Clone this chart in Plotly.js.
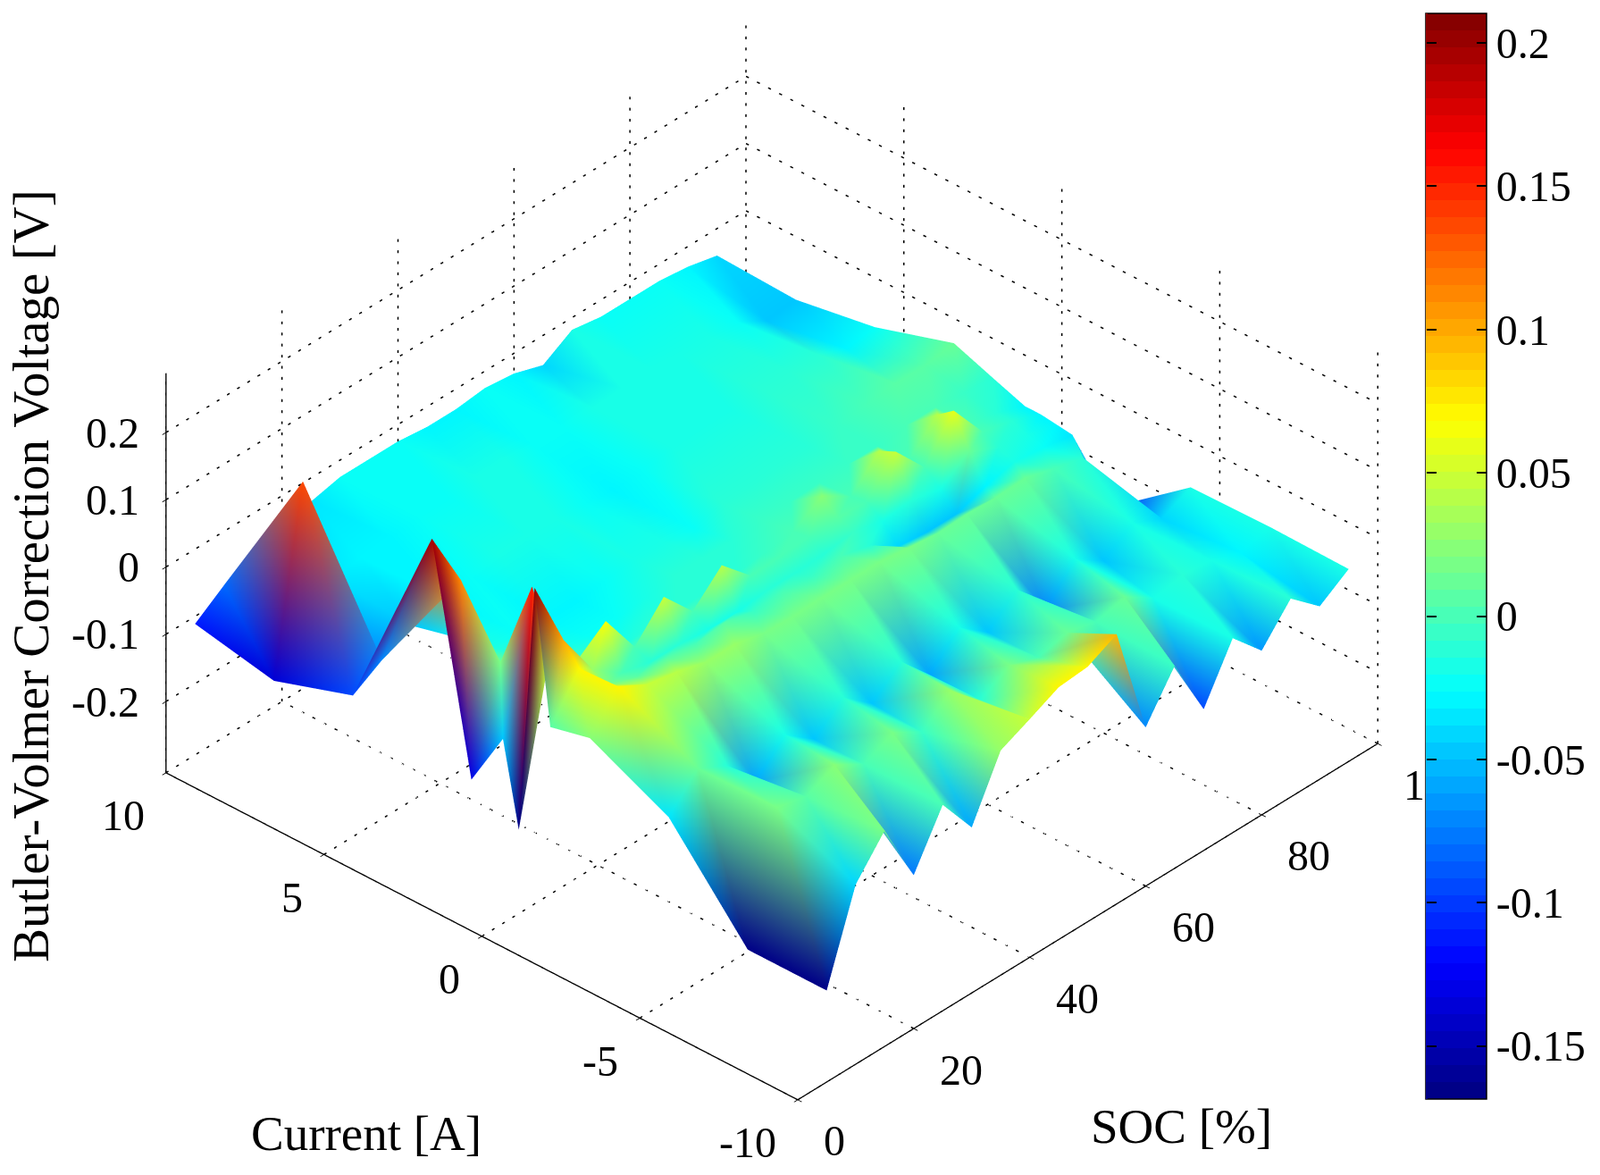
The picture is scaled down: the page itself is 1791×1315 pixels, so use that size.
<!DOCTYPE html>
<html>
<head>
<meta charset="utf-8">
<script src="https://cdn.plot.ly/plotly-3.0.1.min.js"></script>
<style>html, body { margin: 0; background: #fff; }</style>
</head>
<body>
<div id="chart" style="width:1791px;height:1315px"></div>
<script>
// Data ------------------------------------------------------------------------
const socValues = [5, 10, 15, 20, 25, 30, 35, 40, 45, 50, 55, 60, 65, 70, 75, 80, 85, 90, 95]
const currentValues = [10, 7.5, 5, 2.5, 1.25, 0.25, -0.25, -0.75, -1.25, -2.5, -5, -7.5, -10]

// one row per SOC value, one column per current value
const correctionVoltage = [
  [-0.111, -0.135, -0.096, 0.198, -0.13, -0.045, -0.168, 0.204, 0.009, 0.023, -0.034, -0.17, -0.17],
  [-0.08, 0.135, -0.07, 0.11, 0.018, 0.155, 0.05, 0.1, 0.07, 0.073, 0.012, 0.015, -0.039],
  [-0.06, -0.035, -0.045, -0.015, -0.005, 0.005, 0.03, 0.03, 0.02, 0.05, -0.01, 0.005, 0.015],
  [-0.04, -0.032, -0.027, -0.022, -0.017, -0.004, 0.063, -0.002, 0.005, 0.042, -0.06, 0.025, -0.078],
  [-0.035, -0.027, -0.022, -0.027, -0.022, -0.017, -0.002, -0.012, 0.005, 0.03, -0.017, 0, 0],
  [-0.025, -0.022, -0.017, -0.027, -0.022, -0.012, 0.046, -0.012, 0, 0.03, -0.05, 0.02, -0.06],
  [-0.025, -0.022, -0.017, -0.022, -0.017, -0.012, -0.002, -0.017, 0.005, 0.02, -0.014, -0.005, 0.028],
  [-0.025, -0.018, -0.018, -0.018, -0.012, -0.012, 0.04, -0.017, -0.004, 0.018, -0.05, 0.03, 0.048],
  [-0.03, -0.018, -0.022, -0.018, -0.012, -0.012, -0.002, -0.012, -0.002, 0.02, -0.014, -0.01, 0.069],
  [-0.03, -0.024, -0.03, -0.024, -0.012, -0.007, 0, -0.012, -0.005, 0.02, -0.06, 0.015, 0.073],
  [-0.025, -0.024, -0.024, -0.014, -0.008, -0.002, 0.002, -0.01, -0.002, 0.02, -0.016, 0, 0.095],
  [-0.03, -0.02, -0.018, -0.014, -0.008, 0.025, 0.004, -0.004, -0.012, 0.015, -0.05, 0.01, -0.07],
  [-0.044, -0.018, -0.015, -0.01, -0.006, -0.002, 0.002, -0.015, -0.04, 0.01, -0.013, 0, -0.005],
  [-0.018, -0.015, -0.015, -0.01, -0.005, 0.039, 0.05, -0.01, -0.045, 0.012, -0.07, 0.01, -0.096],
  [-0.025, -0.02, -0.01, -0.005, -0.005, 0, 0, -0.02, -0.045, 0.01, -0.02, -0.018, -0.017],
  [-0.025, -0.02, -0.01, 0, 0, 0.04, 0.058, 0.01, -0.03, 0.012, -0.05, -0.01, -0.062],
  [-0.025, -0.025, -0.012, 0.005, 0, 0, 0, -0.01, -0.02, 0, -0.02, -0.015, -0.011],
  [-0.03, -0.05, -0.03, 0.005, -0.005, -0.01, -0.01, -0.02, -0.025, -0.01, -0.04, -0.03, -0.049],
  [-0.04, -0.045, -0.025, 0.012, -0.01, -0.027, -0.027, -0.03, -0.033, -0.11, -0.02, -0.018, -0.02]
]

const socTicks = [0, 20, 40, 60, 80, 100]
const currentTicks = [-10, -5, 0, 5, 10]
const currentTickText = ['-10', '-5', '0', '5', '10']
const voltageTicks = [-0.2, -0.1, 0, 0.1, 0.2]
const voltageTickText = ['-0.2', '-0.1', '0', '0.1', '0.2']
const colorTicks = [-0.15, -0.1, -0.05, 0, 0.05, 0.1, 0.15, 0.2]
const colorTickText = ['-0.15', '-0.1', '-0.05', '0', '0.05', '0.1', '0.15', '0.2']

const colorMin = -0.1685
const colorMax = 0.2103
const voltageRange = [-0.306, 0.288]

// Utils -----------------------------------------------------------------------
const serif = '"Liberation Serif", "Times New Roman", serif'

// Matlab's jet map, 64 steps
function jetColour (t) {
  const level = Math.min(63, Math.max(0, Math.floor(t * 64)))
  const v = (level + 0.5) / 64
  const ramp = c => Math.round(255 * Math.max(0, Math.min(1, 1.5 - Math.abs(4 * v - c))))
  return [ramp(3), ramp(2), ramp(1)]
}
const rgb = c => `rgb(${c[0]},${c[1]},${c[2]})`

const voltageColour = z => rgb(jetColour((z - colorMin) / (colorMax - colorMin)))

// Stepped colour scale for the colour bar
const steppedJet = []
for (let n = 0; n < 64; n++) {
  const c = rgb(jetColour((n + 0.5) / 64))
  steppedJet.push([n / 64, c], [(n + 1) / 64, c])
}

// Surface as triangles, so colours blend vertex to vertex like Matlab's interp shading
const meshX = []
const meshY = []
const meshZ = []
const meshColour = []
const meshI = []
const meshJ = []
const meshK = []
socValues.forEach((soc, row) => {
  currentValues.forEach((current, col) => {
    const z = correctionVoltage[row][col]
    meshX.push(soc)
    meshY.push(current)
    meshZ.push(z)
    meshColour.push(voltageColour(z))
  })
})
const nCols = currentValues.length
for (let row = 0; row < socValues.length - 1; row++) {
  for (let col = 0; col < nCols - 1; col++) {
    const a = row * nCols + col
    const b = a + 1
    const c = a + nCols
    const d = c + 1
    meshI.push(a, b)
    meshJ.push(b, d)
    meshK.push(c, c)
  }
}

// Dotted grid on the floor and the two back walls, drawn as short dashes
const gridX = []
const gridY = []
const gridZ = []
function gridLine (x0, y0, z0, x1, y1, z1, dots) {
  for (let n = 0; n < dots; n++) {
    const a = n / dots
    const b = (n + 0.25) / dots
    gridX.push(x0 + (x1 - x0) * a, x0 + (x1 - x0) * b, null)
    gridY.push(y0 + (y1 - y0) * a, y0 + (y1 - y0) * b, null)
    gridZ.push(z0 + (z1 - z0) * a, z0 + (z1 - z0) * b, null)
  }
}
const zLow = voltageRange[0]
const zTop = voltageRange[1]
socTicks.forEach(s => {
  gridLine(s, -10, zLow, s, 10, zLow, 57)
  gridLine(s, 10, zLow, s, 10, zTop, 36)
})
currentTicks.forEach(c => {
  gridLine(0, c, zLow, 100, c, zLow, 57)
  gridLine(100, c, zLow, 100, c, zTop, 36)
})
voltageTicks.forEach(v => {
  gridLine(0, 10, v, 100, 10, v, 57)
  gridLine(100, 10, v, 100, -10, v, 57)
})

// Tick labels sit on the axes as scene annotations, gl labels come out rotated
const tickFont = { family: serif, size: 48, color: '#000' }
const sceneAnnotations = [
  ...currentTicks.map((c, n) => ({
    x: 0, y: c, z: zLow, text: currentTickText[n], showarrow: false, xanchor: 'right', yanchor: 'middle', xshift: -22, yshift: -48, font: tickFont
  })),
  ...socTicks.map(s => ({
    x: s, y: -10, z: zLow, text: String(s), showarrow: false, xanchor: 'left', yanchor: 'middle', xshift: 27, yshift: -46, font: tickFont
  })),
  ...voltageTicks.map((v, n) => ({
    x: 0, y: 10, z: v, text: voltageTickText[n], showarrow: false, xanchor: 'right', yanchor: 'middle', xshift: -28, yshift: 0, font: tickFont
  }))
]

// Chart -----------------------------------------------------------------------
const axisStyle = {
  showbackground: false,
  showgrid: false,
  zeroline: false,
  showline: true,
  linecolor: '#000',
  linewidth: 3,
  ticks: 'outside',
  ticklen: 6,
  tickcolor: '#000',
  tickwidth: 2,
  showticklabels: false,
  showspikes: false,
  title: { text: '' }
}

const barMarker = {
  size: 0.1,
  opacity: 0,
  color: [0],
  cmin: colorMin,
  cmax: colorMax,
  colorscale: steppedJet,
  showscale: true
}
const barPlacement = {
  x: 1596 / 1791,
  xanchor: 'left',
  xpad: 0,
  y: 1 - 15 / 1315,
  yanchor: 'top',
  ypad: 0,
  len: 1215 / 1315,
  tickmode: 'array',
  tickvals: colorTicks,
  ticklen: 11,
  tickwidth: 1.5,
  tickcolor: '#000'
}

const traces = [
  {
    type: 'mesh3d',
    x: meshX,
    y: meshY,
    z: meshZ,
    i: meshI,
    j: meshJ,
    k: meshK,
    vertexcolor: meshColour,
    flatshading: false,
    lighting: { ambient: 1, diffuse: 0, specular: 0, fresnel: 0, roughness: 1 },
    showscale: false,
    hoverinfo: 'skip'
  },
  {
    type: 'scatter3d',
    mode: 'lines',
    x: gridX,
    y: gridY,
    z: gridZ,
    line: { color: '#000', width: 3 },
    connectgaps: false,
    hoverinfo: 'skip',
    showlegend: false
  },
  {
    // carries the colour bar only
    type: 'scatter3d',
    mode: 'markers',
    x: [50],
    y: [0],
    z: [0],
    marker: {
      ...barMarker,
      colorbar: {
        ...barPlacement,
        thickness: 68,
        outlinecolor: '#000',
        outlinewidth: 1.5,
        ticktext: colorTickText,
        ticks: 'inside',
        tickfont: { family: serif, size: 48, color: '#000' }
      }
    },
    hoverinfo: 'skip',
    showlegend: false
  },
  {
    // thin second bar, only for the tick marks on the left side of the colour bar
    type: 'scatter3d',
    mode: 'markers',
    x: [50],
    y: [0],
    z: [0],
    marker: {
      ...barMarker,
      colorbar: {
        ...barPlacement,
        thickness: 1,
        outlinewidth: 0,
        ticks: 'outside',
        showticklabels: false
      }
    },
    hoverinfo: 'skip',
    showlegend: false
  }
]

const layout = {
  width: 1791,
  height: 1315,
  margin: { l: 0, r: 0, t: 0, b: 0 },
  paper_bgcolor: '#fff',
  showlegend: false,
  font: { family: serif, color: '#000' },
  scene: {
    domain: { x: [0, 1728 / 1791], y: [1 - 1250 / 1315, 1] },
    aspectmode: 'manual',
    aspectratio: { x: 1.536, y: 1.536, z: 0.866 },
    camera: {
      projection: { type: 'orthographic' },
      up: { x: 0, y: 0, z: 1 },
      center: { x: 0, y: 0, z: 0 },
      eye: { x: -0.708, y: -0.65, z: 0.656 }
    },
    xaxis: { ...axisStyle, range: [0, 100], tickmode: 'array', tickvals: socTicks },
    yaxis: { ...axisStyle, range: [-10, 10], tickmode: 'array', tickvals: currentTicks },
    zaxis: { ...axisStyle, range: voltageRange, tickmode: 'array', tickvals: voltageTicks },
    annotations: sceneAnnotations
  },
  annotations: [
    { text: 'Current [A]', xref: 'paper', yref: 'paper', x: 410 / 1791, y: 1 - 1268 / 1315, xanchor: 'center', yanchor: 'middle', showarrow: false, font: { family: serif, size: 55, color: '#000' } },
    { text: 'SOC [%]', xref: 'paper', yref: 'paper', x: 1322 / 1791, y: 1 - 1260 / 1315, xanchor: 'center', yanchor: 'middle', showarrow: false, font: { family: serif, size: 55, color: '#000' } },
    { text: 'Butler-Volmer Correction Voltage [V]', xref: 'paper', yref: 'paper', x: 34 / 1791, y: 1 - 645 / 1315, xanchor: 'center', yanchor: 'middle', textangle: -90, showarrow: false, font: { family: serif, size: 57, color: '#000' } }
  ]
}

Plotly.newPlot('chart', traces, layout, { displayModeBar: false }).then(() => {
  // the colour bar covers the end of the 100 label, as in the original figure
  document.querySelectorAll('.colorbar').forEach(bar => bar.parentNode.appendChild(bar))
})
</script>
</body>
</html>
